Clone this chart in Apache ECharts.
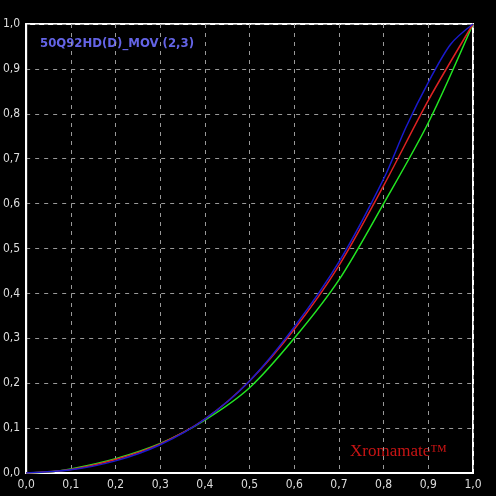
<!DOCTYPE html>
<html>
<head>
<meta charset="utf-8">
<script src="https://cdn.jsdelivr.net/npm/echarts@6/dist/echarts.min.js"></script>
<style>html,body{margin:0;background:#000}#c{width:496px;height:496px}</style>
</head>
<body>
<div id="c"></div>
<script>
// curve values
let redCurve = [[0,0],[0.1,0.008],[0.2,0.03],[0.3,0.065],[0.4,0.12],[0.5,0.205],[0.6,0.32],[0.7,0.462],[0.8,0.64],[0.9,0.83],[1,1]];
let blueCurve = [[0,0],[0.1,0.007],[0.2,0.027],[0.3,0.063],[0.4,0.12],[0.5,0.205],[0.6,0.325],[0.7,0.47],[0.8,0.655],[0.85,0.77],[0.9,0.87],[0.95,0.955],[1,1]];
let greenCurve = [[0,0],[0.05,0.002],[0.1,0.009],[0.2,0.032],[0.3,0.066],[0.4,0.118],[0.5,0.19],[0.6,0.30],[0.7,0.43],[0.8,0.6],[0.9,0.78],[1,1]];
let title = '50Q92HD(D)_MOV (2,3)';

let chart = echarts.init(document.getElementById('c'));

function fmt(v) {
    return v.toFixed(1).replace('.', ',');
}

function axis() {
    return {
        type: 'value', min: 0, max: 1, interval: 0.1,
        axisLine: {show: true, lineStyle: {color: '#fff', width: 2}},
        axisTick: {show: false},
        axisLabel: {color: '#ddd', fontSize: 12, fontFamily: 'DejaVu Sans Condensed', formatter: fmt, margin: 6},
        splitLine: {show: true, lineStyle: {color: '#999', type: [4, 5], width: 1}}
    };
}

function line(data, color) {
    return {type: 'line', data: data, smooth: 0.3, symbol: 'none', lineStyle: {color: color, width: 1.5}};
}

chart.setOption({
    backgroundColor: '#000',
    animation: false,
    grid: {left: 23, right: 23, top: 24, bottom: 23, show: true, borderColor: '#fff', borderWidth: 2},
    xAxis: axis(),
    yAxis: axis(),
    graphic: [
        {type: 'text', left: 40, top: 37, style: {text: title, fill: '#6464e6', font: 'bold 13px DejaVu Sans Condensed'}},
        {type: 'text', left: 350, top: 443, style: {text: 'Xromamate™', fill: '#c81414', font: '17px Liberation Serif'}}
    ],
    series: [
        line(greenCurve, '#22e622'),
        line(redCurve, '#dd2222'),
        line(blueCurve, '#1a1acc')
    ]
});
</script>
</body>
</html>
